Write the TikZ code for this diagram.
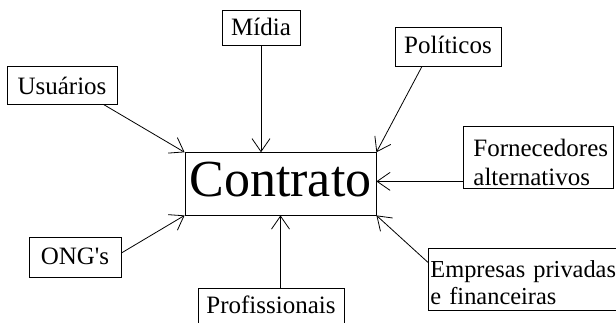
\documentclass[tikz,border=0pt]{standalone}
\usepackage{fontspec}
\setmainfont{Liberation Serif}
\usetikzlibrary{arrows.meta}
\begin{document}
\begin{tikzpicture}[x=1pt,y=-1pt,
  box/.style={draw, line width=0.8pt, inner sep=0pt, font=\fontsize{25}{29}\selectfont},
  conn/.style={line width=0.8pt, -{Straight Barb[length=13pt,width=18pt]}}]
\clip (0,0) rectangle (616,323);
\node[box, minimum width=78pt, text height=26pt, text depth=9pt] (mid) at (261,27.5) {Mídia};
\node[box, minimum width=110pt, text height=28.5pt, text depth=9.5pt] (usu) at (62,85) {Usuários};
\node[box, minimum width=106pt, text height=27pt, text depth=12pt] (pol) at (448,46.5) {Políticos};
\node[box, minimum width=191pt, text height=44.3pt, text depth=18pt, font=\fontsize{52}{57}\selectfont] (con) at (280.5,183.85) {Contrato};
\node[box, minimum width=92pt, text height=28pt, text depth=12pt] (ong) at (75,257) {ONG\textquotesingle s};
\node[box, minimum width=146pt, text height=25.3pt, text depth=15pt] (pro) at (271,308.15) {Profissionais};
\node[box, anchor=north west, inner xsep=10pt, text width=130pt, text height=30pt, text depth=32pt, align=left] (for) at (463,126) {Fornecedores\\alternativos};
\node[box, anchor=north west, inner xsep=2pt, text width=210pt, text height=29pt, text depth=33pt, align=left, font=\fontsize{24.4}{27}\selectfont] (emp) at (428,248) {Empresas privadas\\e financeiras};
\coordinate (fa) at ([yshift=-24pt]for.west);
\draw[conn] ([xshift=-14pt]usu.south east) -- (con.north west);
\draw[conn] (mid.south) -- (mid.south |- con.north);
\draw[conn] ([xshift=-26pt]pol.south) -- (con.north east);
\draw[conn] (fa) -- (con.east |- fa);
\draw[conn] ([yshift=17pt]emp.west) -- (con.south east);
\draw[conn] ([yshift=4pt]ong.east) -- (con.south west);
\draw[conn] (con.south |- pro.north) -- (con.south);
\end{tikzpicture}
\end{document}
